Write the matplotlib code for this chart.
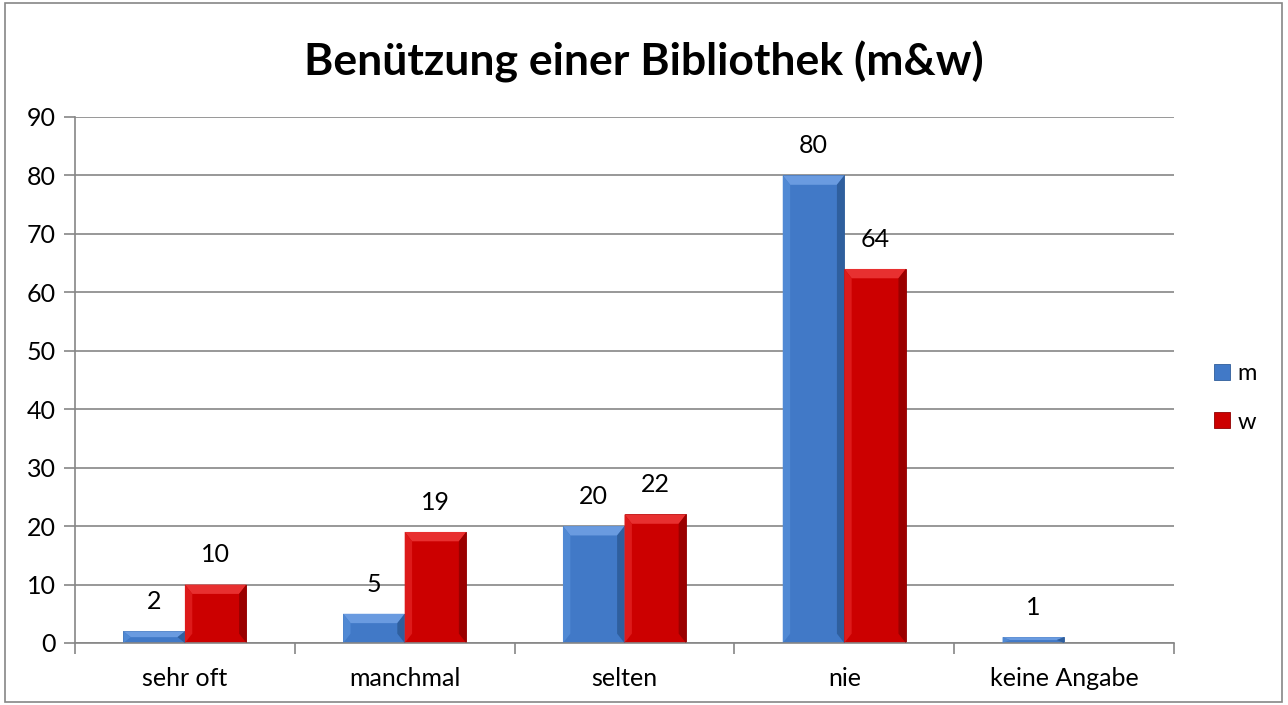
import matplotlib
matplotlib.use("Agg")
import matplotlib.pyplot as plt
from matplotlib.patches import Polygon, Rectangle
import numpy as np

categories = ["sehr oft", "manchmal", "selten", "nie", "keine Angabe"]
m_values = [2, 5, 20, 80, 1]
w_values = [10, 19, 22, 64, 0]
m_labels = ["2", "5", "20", "80", "1"]
w_labels = ["10", "19", "22", "64", ""]
yticks = list(range(0, 100, 10))

plt.rcParams['font.family'] = ['Lato', 'DejaVu Sans']

fig = plt.figure(figsize=(12.88, 7.05), dpi=100)
fig.patches.append(Rectangle((5/1288, 3/705), 1277/1288, 699/705, transform=fig.transFigure,
                             fill=False, edgecolor='#868686', linewidth=1.2))
ax = fig.add_axes([75/1288, 1-643/705, (1174-75)/1288, (643-117)/705])

x = np.arange(len(categories))
bw = 0.28
blue = '#4179c7'
red = '#cc0000'

def bevel(ax, bars, light, dark, side):
    for b in bars:
        h = b.get_height()
        if h <= 0:
            continue
        x0 = b.get_x(); w = b.get_width()
        bx = w * 0.12
        by = min(h / 2, 1.6)
        top = h
        ax.add_patch(Polygon([(x0, top), (x0 + w, top), (x0 + w - bx, top - by), (x0 + bx, top - by)],
                             closed=True, facecolor=light, edgecolor='none', zorder=3))
        ax.add_patch(Polygon([(x0, 0), (x0, top), (x0 + bx, top - by), (x0 + bx, min(by, top - by))],
                             closed=True, facecolor=side, edgecolor='none', zorder=3))
        ax.add_patch(Polygon([(x0 + w, 0), (x0 + w, top), (x0 + w - bx, top - by), (x0 + w - bx, min(by, top - by))],
                             closed=True, facecolor=dark, edgecolor='none', zorder=3))

mb = ax.bar(x - bw/2, m_values, bw, color=blue, edgecolor='#2f5d9a', linewidth=0.6, zorder=2)
wb = ax.bar(x + bw/2, w_values, bw, color=red, edgecolor='#8f0000', linewidth=0.6, zorder=2)
bevel(ax, mb, '#6a9be0', '#2f5f9e', '#5089d4')
bevel(ax, wb, '#e83030', '#9a0000', '#dd1a1a')

for bars, labels in ((mb, m_labels), (wb, w_labels)):
    for b, lab in zip(bars, labels):
        if lab:
            ax.annotate(lab, (b.get_x() + b.get_width()/2, b.get_height()), xytext=(0, 13),
                        textcoords='offset points', ha='center', va='bottom', fontsize=18)

ax.set_xlim(-0.5, len(categories) - 0.5)
ax.set_ylim(0, 90)
ax.set_yticks(yticks)
ax.set_yticklabels([str(t) for t in yticks], fontsize=18)
ax.yaxis.grid(True, color='#868686', linewidth=1.2, zorder=0)
ax.set_axisbelow(True)
ax.set_xticks(x)
ax.set_xticklabels(categories, fontsize=18)
ax.tick_params(axis='x', length=0, pad=17)
ax.set_xticks(np.arange(-0.5, len(categories)), minor=True)
ax.tick_params(axis='x', which='minor', length=8, color='#868686', width=1.2, direction='out')
ax.tick_params(axis='y', length=8, color='#868686', width=1.2, pad=6)
for s in ['top', 'right']:
    ax.spines[s].set_visible(False)
for s in ['left', 'bottom']:
    ax.spines[s].set_color('#868686')
    ax.spines[s].set_linewidth(1.2)

fig.text(0.5, 1 - 62/705, "Benützung einer Bibliothek (m&w)", ha='center', va='center',
         fontsize=32, fontweight='bold')

leg = ax.legend([mb, wb], ['m', 'w'], loc='center left', bbox_to_anchor=(1193/1288, 1 - 398/705),
                bbox_transform=fig.transFigure, frameon=False, fontsize=17,
                handlelength=0.65, handleheight=0.65, handletextpad=0.35, labelspacing=1.15)

fig.savefig("out.png", dpi=100)
